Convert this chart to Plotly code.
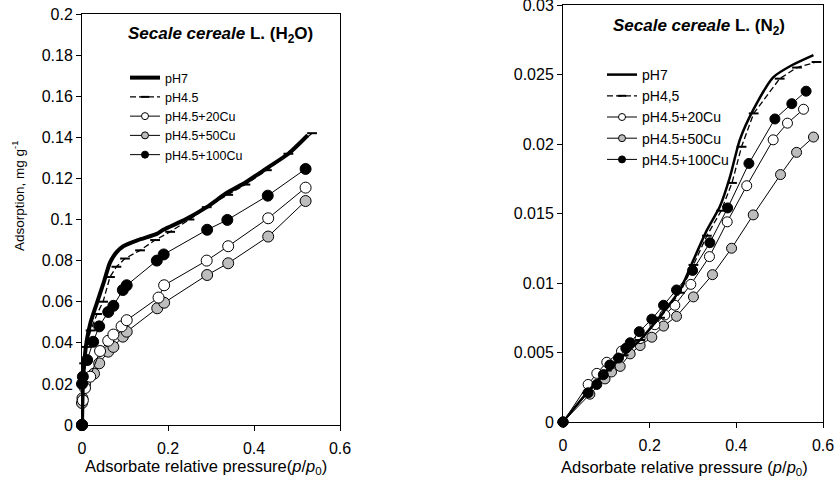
import plotly.graph_objects as go

# ---------------- data: left panel (H2O) ----------------
h2o_ph7_x = [0, 0.002, 0.005, 0.011, 0.02, 0.034, 0.05, 0.065, 0.08, 0.096, 0.13, 0.174, 0.189, 0.24, 0.29, 0.337, 0.38, 0.43, 0.48, 0.525]
h2o_ph7_y = [0, 0.02, 0.03, 0.041, 0.05, 0.059, 0.069, 0.079, 0.084, 0.087, 0.09, 0.093, 0.095, 0.1, 0.106, 0.113, 0.118, 0.125, 0.132, 0.141]
h2o_ph45_x = [0, 0.002, 0.005, 0.01, 0.02, 0.035, 0.049, 0.065, 0.08, 0.1, 0.135, 0.17, 0.205, 0.25, 0.29, 0.34, 0.38, 0.43, 0.48, 0.535]
h2o_ph45_y = [0, 0.02, 0.03, 0.038, 0.046, 0.054, 0.06, 0.072, 0.077, 0.081, 0.085, 0.09, 0.094, 0.1, 0.106, 0.112, 0.117, 0.124, 0.132, 0.142]
h2o_cu20_x = [0, 0.002, 0.007, 0.019, 0.042, 0.061, 0.073, 0.092, 0.104, 0.178, 0.191, 0.29, 0.34, 0.433, 0.52]
h2o_cu20_y = [0, 0.012, 0.018, 0.0235, 0.036, 0.041, 0.044, 0.048, 0.051, 0.062, 0.068, 0.080, 0.087, 0.1006, 0.1155]
h2o_cu50_x = [0, 0.0, 0.001, 0.007, 0.028, 0.04, 0.061, 0.073, 0.095, 0.104, 0.175, 0.191, 0.291, 0.34, 0.433, 0.52]
h2o_cu50_y = [0, 0.0107, 0.013, 0.02, 0.025, 0.030, 0.0357, 0.038, 0.043, 0.0454, 0.0568, 0.0595, 0.073, 0.0787, 0.0917, 0.109]
h2o_cu100_x = [0, 0, 0.002, 0.012, 0.026, 0.04, 0.061, 0.073, 0.095, 0.104, 0.174, 0.19, 0.291, 0.338, 0.432, 0.52]
h2o_cu100_y = [0, 0.02, 0.0235, 0.0316, 0.0405, 0.048, 0.055, 0.058, 0.0657, 0.068, 0.080, 0.083, 0.095, 0.0998, 0.1116, 0.1246]

# ---------------- data: right panel (N2) ----------------
n2_ph7_x = [0, 0.055, 0.101, 0.14, 0.178, 0.224, 0.27, 0.301, 0.332, 0.362, 0.385, 0.408, 0.439, 0.485, 0.53, 0.578]
n2_ph7_y = [0, 0.0021, 0.0037, 0.0048, 0.0059, 0.0076, 0.0095, 0.01165, 0.0138, 0.0155, 0.0176, 0.0203, 0.02245, 0.0248, 0.0257, 0.0264]
n2_ph45_x = [0, 0.055, 0.101, 0.14, 0.178, 0.224, 0.27, 0.301, 0.332, 0.365, 0.39, 0.412, 0.44, 0.50, 0.54, 0.585]
n2_ph45_y = [0, 0.0021, 0.0037, 0.0048, 0.0059, 0.0075, 0.0093, 0.0113, 0.0134, 0.0152, 0.0172, 0.0198, 0.0222, 0.0247, 0.0255, 0.0259]
n2_cu20_x = [0, 0.058, 0.078, 0.101, 0.135, 0.178, 0.212, 0.235, 0.258, 0.295, 0.338, 0.379, 0.424, 0.485, 0.518, 0.555]
n2_cu20_y = [0, 0.0027, 0.0035, 0.0043, 0.0051, 0.006, 0.0070, 0.0077, 0.0084, 0.0099, 0.0119, 0.0144, 0.0170, 0.0203, 0.0215, 0.0225]
n2_cu50_x = [0, 0.062, 0.097, 0.112, 0.132, 0.155, 0.178, 0.205, 0.232, 0.262, 0.301, 0.345, 0.389, 0.439, 0.502, 0.539, 0.578]
n2_cu50_y = [0, 0.0020, 0.0031, 0.0036, 0.0040, 0.0049, 0.0055, 0.0061, 0.0069, 0.0076, 0.0090, 0.0106, 0.0125, 0.0149, 0.0178, 0.0194, 0.0205]
n2_cu100_x = [0, 0.058, 0.078, 0.093, 0.108, 0.128, 0.145, 0.155, 0.176, 0.205, 0.232, 0.262, 0.299, 0.339, 0.38, 0.429, 0.489, 0.528, 0.561]
n2_cu100_y = [0, 0.0021, 0.0027, 0.0034, 0.0041, 0.0046, 0.0053, 0.0057, 0.0065, 0.0074, 0.0084, 0.0095, 0.0109, 0.0129, 0.0154, 0.0186, 0.0218, 0.0229, 0.0238]

left_names = ["pH7", "pH4.5", "pH4.5+20Cu", "pH4.5+50Cu", "pH4.5+100Cu"]
right_names = ["pH7", "pH4,5", "pH4.5+20Cu", "pH4.5+50Cu", "pH4.5+100Cu"]

x_ticks = [0, 0.2, 0.4, 0.6]
x_tick_text = ["0", "0.2", "0.4", "0.6"]
left_y_ticks = [0, 0.02, 0.04, 0.06, 0.08, 0.1, 0.12, 0.14, 0.16, 0.18, 0.2]
left_y_text = ["0", "0.02", "0.04", "0.06", "0.08", "0.1", "0.12", "0.14", "0.16", "0.18", "0.2"]
right_y_ticks = [0, 0.005, 0.01, 0.015, 0.02, 0.025, 0.03]
right_y_text = ["0", "0.005", "0.01", "0.015", "0.02", "0.025", "0.03"]

FONT = "Arial, Liberation Sans, sans-serif"
W, H = 839, 482
GRAY = "#bdbdbd"

fig = go.Figure()


def add_panel(xa, ya, leg, names, data, pH7w, msize):
    (p7x, p7y), (p45x, p45y), (c20x, c20y), (c50x, c50y), (c100x, c100y) = data
    circ = [(c50x, c50y, GRAY), (c20x, c20y, "white"), (c100x, c100y, "black")]
    for cx, cy, col in circ:
        fig.add_trace(go.Scatter(x=cx, y=cy, mode="lines+markers", xaxis=xa, yaxis=ya,
                                 line=dict(color="black", width=1),
                                 marker=dict(symbol="circle", size=msize, color=col,
                                             line=dict(color="black", width=1)),
                                 showlegend=False, cliponaxis=False))
    fig.add_trace(go.Scatter(x=p45x, y=p45y, mode="lines+markers", xaxis=xa, yaxis=ya,
                             line=dict(color="black", width=1.3, dash="6px,3px"),
                             marker=dict(symbol="line-ew", size=7, line=dict(color="black", width=2)),
                             showlegend=False, cliponaxis=False))
    fig.add_trace(go.Scatter(x=p7x, y=p7y, mode="lines", xaxis=xa, yaxis=ya,
                             line=dict(color="black", width=pH7w, shape="spline", smoothing=0.6),
                             showlegend=False, cliponaxis=False))
    # legend entries
    fig.add_trace(go.Scatter(x=[None], y=[None], mode="lines", xaxis=xa, yaxis=ya, name=names[0],
                             line=dict(color="black", width=pH7w), legend=leg))
    fig.add_trace(go.Scatter(x=[None], y=[None], mode="lines+markers", xaxis=xa, yaxis=ya, name=names[1],
                             line=dict(color="black", width=1.3, dash="6px,3px"),
                             marker=dict(symbol="line-ew", size=6, line=dict(color="black", width=2)),
                             legend=leg))
    for nm, col in [(names[2], "white"), (names[3], GRAY), (names[4], "black")]:
        fig.add_trace(go.Scatter(x=[None], y=[None], mode="lines+markers", xaxis=xa, yaxis=ya, name=nm,
                                 line=dict(color="black", width=1),
                                 marker=dict(symbol="circle", size=7, color=col,
                                             line=dict(color="black", width=1)),
                                 legend=leg))


add_panel("x", "y", "legend", left_names,
          [(h2o_ph7_x, h2o_ph7_y), (h2o_ph45_x, h2o_ph45_y), (h2o_cu20_x, h2o_cu20_y),
           (h2o_cu50_x, h2o_cu50_y), (h2o_cu100_x, h2o_cu100_y)], 4, 11)
add_panel("x2", "y2", "legend2", right_names,
          [(n2_ph7_x, n2_ph7_y), (n2_ph45_x, n2_ph45_y), (n2_cu20_x, n2_cu20_y),
           (n2_cu50_x, n2_cu50_y), (n2_cu100_x, n2_cu100_y)], 2.5, 10)

axis_common = dict(showgrid=False, zeroline=False, showline=True, linecolor="black", linewidth=1,
                   mirror=True, ticks="outside", ticklen=5, tickcolor="black", automargin=False,
                   ticklabeloverflow="allow",
                   tickfont=dict(family=FONT, size=16, color="black"))


def ann(text, x, y, size, angle=0):
    return dict(text=text, x=x / W, y=1 - y / H, xref="paper", yref="paper", showarrow=False,
                xanchor="center", yanchor="middle", textangle=angle,
                font=dict(family=FONT, size=size, color="black"))


fig.update_layout(
    template="none",
    width=W, height=H, margin=dict(l=0, r=0, t=0, b=0, pad=0), autosize=False,
    paper_bgcolor="white", plot_bgcolor="white",
    font=dict(family=FONT, color="black"),
    xaxis=dict(domain=[82 / W, 340 / W], range=[0, 0.6], tickvals=x_ticks, ticktext=x_tick_text,
               ticklabelstandoff=4, **axis_common),
    yaxis=dict(domain=[(H - 425) / H, (H - 14) / H], range=[0, 0.2], tickvals=left_y_ticks,
               ticktext=left_y_text, **axis_common),
    xaxis2=dict(domain=[563 / W, 823 / W], range=[0, 0.6], tickvals=x_ticks, ticktext=x_tick_text,
                anchor="y2", ticklabelstandoff=4, **axis_common),
    yaxis2=dict(domain=[(H - 422) / H, (H - 5) / H], range=[0, 0.03], tickvals=right_y_ticks,
                ticktext=right_y_text, anchor="x2", **axis_common),
    legend=dict(x=125 / W, y=1 - 63 / H, xanchor="left", yanchor="top", bgcolor="rgba(0,0,0,0)",
                font=dict(family=FONT, size=12.5, color="black"), tracegroupgap=0),
    legend2=dict(x=602 / W, y=1 - 59 / H, xanchor="left", yanchor="top", bgcolor="rgba(0,0,0,0)",
                 font=dict(family=FONT, size=14, color="black"), tracegroupgap=0),
    annotations=[
        ann("<b><i>Secale cereale</i> L. (H<sub>2</sub>O)</b>", 220, 35, 17),
        ann("<b><i>Secale cereale</i> L. (N<sub>2</sub>)</b>", 699, 27, 17),
        ann("Adsorbate relative pressure(<i>p</i>/<i>p</i><sub>0</sub>)", 206, 467, 16.5),
        ann("Adsorbate relative pressure (<i>p</i>/<i>p</i><sub>0</sub>)", 684, 468, 16.5),
        ann("Adsorption, mg g<sup>-1</sup>", 18, 196, 13.5, angle=-90),
    ],
)

fig.write_html("out.html")
